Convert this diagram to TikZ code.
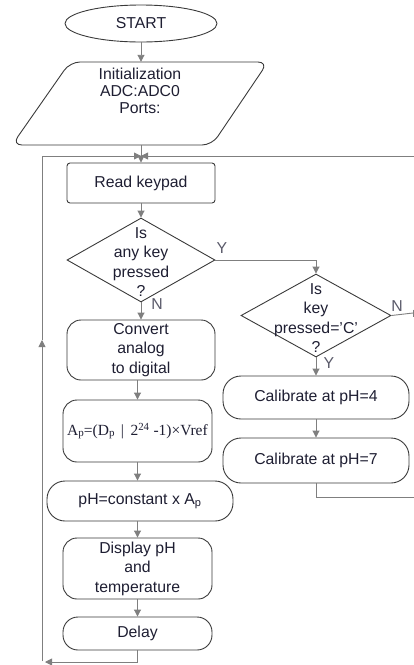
\documentclass[tikz,border=0pt]{standalone}
\usepackage{fontspec}
\setmainfont{Liberation Sans}
\newfontfamily\serifA{Liberation Serif}
\usetikzlibrary{shapes.geometric,arrows.meta}
\definecolor{boxc}{HTML}{3A3A3A}
\definecolor{linec}{HTML}{7F7F7F}
\definecolor{txt}{HTML}{1E1E32}
\definecolor{ync}{HTML}{5A5A6A}
\begin{document}
\begin{tikzpicture}[x=1pt,y=-1pt,
  base/.style={draw=boxc, line width=0.9pt, text=txt, inner sep=0pt, align=center,
    font=\fontsize{15.8}{19.5}\selectfont},
  rbox/.style={base, rectangle, rounded corners=14pt},
  pill/.style={base, rectangle, rounded corners=18pt},
  txtonly/.style={text=txt, inner sep=0pt, align=center, font=\fontsize{15.8}{19.5}\selectfont},
  conn/.style={draw=linec, line width=0.9pt},
  arr/.style={conn, -{Triangle[length=7pt,width=7pt]}},
  yn/.style={text=ync, inner sep=0pt, font=\fontsize{15.8}{16}\selectfont}
]
\useasboundingbox (0,0) rectangle (414,665);

% START
\node[base, ellipse, minimum width=152pt, minimum height=37pt] (start) at (141,23.5) {START};

% Initialization (parallelogram)
\node[inner sep=0pt, minimum width=256pt, minimum height=83pt] (init) at (140,103.5) {};
\draw[boxc, line width=0.9pt, rounded corners=10pt]
  (169,62) -- (268,62) -- (212,145) -- (12,145) -- (70,62) -- cycle;
\node[txtonly, font=\fontsize{15.8}{17}\selectfont] (initt) at (140,91) {Initialization\\ADC:ADC0\\Ports:};

% Read keypad
\node[base, rectangle, rounded corners=3pt, minimum width=148pt, minimum height=40pt] (rk) at (141,183) {Read keypad};

% Decision 1
\node[base, diamond, minimum width=148pt, minimum height=84pt] (d1) at (141,260) {};
\node[txtonly] (d1t) at (141,262) {Is\\any key\\pressed\\?};

% Decision 2
\node[base, diamond, minimum width=150pt, minimum height=83pt] (d2) at (316,315.5) {};
\node[txtonly] (d2t) at (316,318) {Is\\key\\pressed='C'\\?};

% Left column
\node[rbox, minimum width=148pt, minimum height=60pt] (conv) at (141,350) {Convert\\analog\\to digital};
\node[rbox, minimum width=149pt, minimum height=62pt, font=\serifA\fontsize{15.5}{17}\selectfont] (ap) at (137.5,431)
  {A\raisebox{-1.5pt}{\fontsize{11}{11}\selectfont p}=(D\raisebox{-1.5pt}{\fontsize{11}{11}\selectfont p} \,|\, 2\textsuperscript{24} -1)×Vref};
\node[pill, minimum width=186pt, minimum height=40pt] (ph) at (140,501) {pH=constant x A\textsubscript{p}};
\node[rbox, minimum width=149pt, minimum height=61pt] (disp) at (137.5,568.5) {Display pH\\and\\temperature};
\node[rbox, rounded corners=15pt, minimum width=149pt, minimum height=33pt] (delay) at (137.5,633.5) {Delay};

% Right column
\node[pill, minimum width=186pt, minimum height=43pt] (c4) at (316,397.5) {Calibrate at pH=4};
\node[pill, minimum width=186pt, minimum height=45pt] (c7) at (316,460.5) {Calibrate at pH=7};

% coordinates
\coordinate (merge) at (141,156);
\coordinate (lt) at (42,156);
\coordinate (lmid) at (42,340);
\coordinate (lb) at (42,661);
\coordinate (bl) at (45,662);
\coordinate (rtop) at (414,156);
\coordinate (rn) at (413,313);
\coordinate (rc7) at (414,497);
\coordinate (d1y) at (316,260);

% connectors
\draw[arr] (start) -- (init.north -| start);
\draw[arr] (rk.north |- init.south) -- (rk.north);
\draw[arr] (lt) -- (merge);
\draw[arr] (rtop) -- (merge);
\draw[arr] (rk) -- (d1);
\draw[arr] (d1.south) -- (conv.north);
\draw[conn] (d1.east) -- (d1y);
\draw[arr] (d1y) -- (d2.north);
\draw[conn] (d2.east) -- (rn);
\draw[conn] (413,309.5) -- (413,316.5);
\draw[arr] (d2.south) -- (c4.north);
\draw[arr] (c4) -- (c7);
\draw[conn] (c7.south) |- (rc7);
\draw[arr] (conv.south -| ap.north) -- (ap.north);
\draw[arr] (ap.south) -- (ap.south |- ph.north);
\draw[arr] (ph.south -| disp.north) -- (disp.north);
\draw[arr] (disp) -- (delay);
\draw[arr] (delay.south) |- (bl);
\draw[arr] (lb) -- (lmid);
\draw[conn] (lmid) -- (lt);

% labels
\node[yn] (y1) at (222,248) {Y};
\node[yn] (n1) at (157,304) {N};
\node[yn] (n2) at (397,306) {N};
\node[yn] (y2) at (329,363) {Y};
\end{tikzpicture}
\end{document}
